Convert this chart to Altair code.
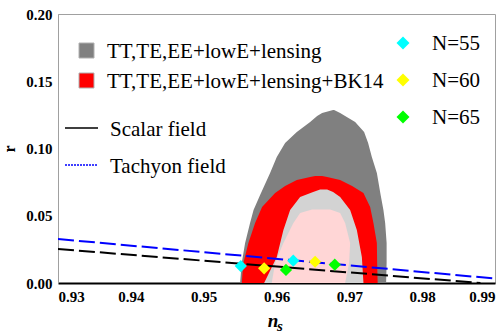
import altair as alt
import pandas as pd

# ---- confidence regions: r levels with left / right n_s edges ----
g95_r = [0.0, 0.0149, 0.0297, 0.0446, 0.0543, 0.0654, 0.0818, 0.0937, 0.1041, 0.1123, 0.1197, 0.1242, 0.1264, 0.1286]
g95_left = [0.9550, 0.95523, 0.95569, 0.95637, 0.95685, 0.95775, 0.95912, 0.96004, 0.96118, 0.96279, 0.96462, 0.96558, 0.96626, 0.96777]
g95_right = [0.97505, 0.97512, 0.97512, 0.97492, 0.97468, 0.97430, 0.97378, 0.97309, 0.97258, 0.97203, 0.97080, 0.96942, 0.96874, 0.96791]

r95_r = [0.0, 0.0149, 0.0297, 0.0446, 0.0565, 0.0669, 0.0721, 0.0766, 0.0788, 0.0796]
r95_left = [0.95523, 0.95545, 0.95614, 0.95706, 0.95802, 0.95981, 0.96118, 0.96279, 0.96462, 0.96530]
r95_right = [0.97389, 0.97382, 0.97378, 0.97331, 0.97286, 0.97194, 0.97038, 0.96874, 0.96696, 0.96626]

g68_r = [0.0, 0.0193, 0.0394, 0.0543, 0.0639, 0.0677, 0.0695]
g68_left = [0.95830, 0.96004, 0.96095, 0.96187, 0.96324, 0.96503, 0.96599]
g68_right = [0.97194, 0.97172, 0.97103, 0.97011, 0.96874, 0.96777, 0.96695]

r68_r = [0.0, 0.0149, 0.0297, 0.0446, 0.0521, 0.0547]
r68_left = [0.95935, 0.95981, 0.96095, 0.96232, 0.96324, 0.96489]
r68_right = [0.96942, 0.96997, 0.97011, 0.96942, 0.96874, 0.96736]

# ---- model lines ----
scalar_ns = [0.93, 0.988]
scalar_r = [0.0253, 0.0]
tachyon_ns = [0.93, 0.99]
tachyon_r = [0.0327, 0.0033]

# ---- model predictions ----
pt_N = ["N=55", "N=55", "N=60", "N=60", "N=65", "N=65"]
pt_ns = [0.9551, 0.9623, 0.9583, 0.9653, 0.9613, 0.9680]
pt_r = [0.0126, 0.0166, 0.0109, 0.0158, 0.0097, 0.0136]

region_labels = ["TT,TE,EE+lowE+lensing", "TT,TE,EE+lowE+lensing+BK14"]
line_labels = ["Scalar field", "Tachyon field"]
n_labels = ["N=55", "N=60", "N=65"]
n_colors = ["#00ffff", "#ffff00", "#00ff00"]

X_TICKS = [0.93, 0.94, 0.95, 0.96, 0.97, 0.98, 0.99]
Y_TICKS = [0.0, 0.05, 0.10, 0.15, 0.20]

FONT = "'Liberation Serif', 'Times New Roman', 'DejaVu Serif', serif"
W, H = 437, 269

xs = alt.Scale(domain=[0.93, 0.99], nice=False, zero=False)
ys = alt.Scale(domain=[0, 0.2], nice=False)

x_axis = alt.Axis(values=X_TICKS, format=".2f", title=None, grid=False, ticks=False,
                  domainColor="black", domainWidth=2, labelPadding=6)
y_axis = alt.Axis(values=Y_TICKS, format=".2f", title="r", grid=False, ticks=False,
                  domainColor="#a0a0a0", labelPadding=6, titlePadding=8)


def region(r, left, right, color):
    df = pd.DataFrame({"r": r, "left": left, "right": right})
    return alt.Chart(df).mark_area(orient="horizontal", color=color, opacity=1, clip=True).encode(
        y=alt.Y("r:Q", scale=ys, axis=y_axis),
        x=alt.X("left:Q", scale=xs, axis=x_axis),
        x2="right:Q",
    )


layers = [
    region(g95_r, g95_left, g95_right, "#808080"),
    region(r95_r, r95_left, r95_right, "#ff0000"),
    region(g68_r, g68_left, g68_right, "#d3d3d3"),
    region(r68_r, r68_left, r68_right, "#ffd6d6"),
]


def dline(ns, r, color):
    df = pd.DataFrame({"ns": ns, "r": r})
    return alt.Chart(df).mark_line(color=color, strokeWidth=2, strokeDash=[16, 5], clip=True).encode(
        x=alt.X("ns:Q", scale=xs), y=alt.Y("r:Q", scale=ys))


layers.append(dline(scalar_ns, scalar_r, "black"))
layers.append(dline(tachyon_ns, tachyon_r, "#0000ff"))

pts = pd.DataFrame({"N": pt_N, "ns": pt_ns, "r": pt_r})
layers.append(alt.Chart(pts).mark_point(shape="diamond", filled=True, size=150, opacity=1).encode(
    x=alt.X("ns:Q", scale=xs), y=alt.Y("r:Q", scale=ys),
    color=alt.Color("N:N", scale=alt.Scale(domain=n_labels, range=n_colors), legend=None)))

# ---- hand-built legends ----
one = pd.DataFrame({"a": [0]})
sq_colors = ["#808080", "#ff0000"]
for i, (lab, col) in enumerate(zip(region_labels, sq_colors)):
    y = 36.5 + 30 * i
    layers.append(alt.Chart(one).mark_square(size=225, color=col, stroke="#b0b0b0", strokeWidth=1, opacity=1)
                  .encode(x=alt.value(28.5), y=alt.value(y)))
    layers.append(alt.Chart(one).mark_text(text=lab, font=FONT, fontSize=21, align="left", baseline="middle",
                                           color="black").encode(x=alt.value(49), y=alt.value(y + 1)))

line_styles = [("black", [1, 0], 1.3), ("#0000ff", [2, 1], 1.5)]
for i, (lab, (col, dash, wdt)) in enumerate(zip(line_labels, line_styles)):
    y = 114 + 37 * i
    layers.append(alt.Chart(one).mark_rule(color=col, strokeDash=dash, strokeWidth=wdt)
                  .encode(x=alt.value(7), x2=alt.value(40), y=alt.value(y)))
    layers.append(alt.Chart(one).mark_text(text=lab, font=FONT, fontSize=21, align="left", baseline="middle",
                                           color="black").encode(x=alt.value(52), y=alt.value(y + 2)))

for i, (lab, col) in enumerate(zip(n_labels, n_colors)):
    y = 29 + 37 * i
    layers.append(alt.Chart(one).mark_point(shape="diamond", filled=True, size=169, color=col, opacity=1)
                  .encode(x=alt.value(345), y=alt.value(y)))
    layers.append(alt.Chart(one).mark_text(text=lab, font=FONT, fontSize=21, align="left", baseline="middle",
                                           color="black").encode(x=alt.value(374), y=alt.value(y + 1)))

# ---- x-axis title n_s ----
layers.append(alt.Chart(one).mark_text(text="n", font=FONT, fontSize=19, fontStyle="italic", fontWeight="bold",
                                       align="center", baseline="alphabetic", color="black")
              .encode(x=alt.value(215), y=alt.value(313)))
layers.append(alt.Chart(one).mark_text(text="s", font=FONT, fontSize=15, fontStyle="italic", fontWeight="bold",
                                       align="left", baseline="alphabetic", color="black")
              .encode(x=alt.value(219), y=alt.value(317)))

chart = alt.layer(*layers).properties(
    width=W, height=H,
    autosize=alt.AutoSizeParams(type="none"),
    padding={"left": 58, "top": 14, "right": 5, "bottom": 50},
    background="white",
).configure_view(stroke="#a0a0a0", strokeWidth=1).configure_axis(
    labelFont=FONT, labelFontWeight="bold", labelFontSize=15, labelColor="black",
    titleFont=FONT, titleFontWeight="bold", titleFontSize=16, titleColor="black",
)

chart.save("out.html", embed_options={"renderer": "svg", "actions": False})
